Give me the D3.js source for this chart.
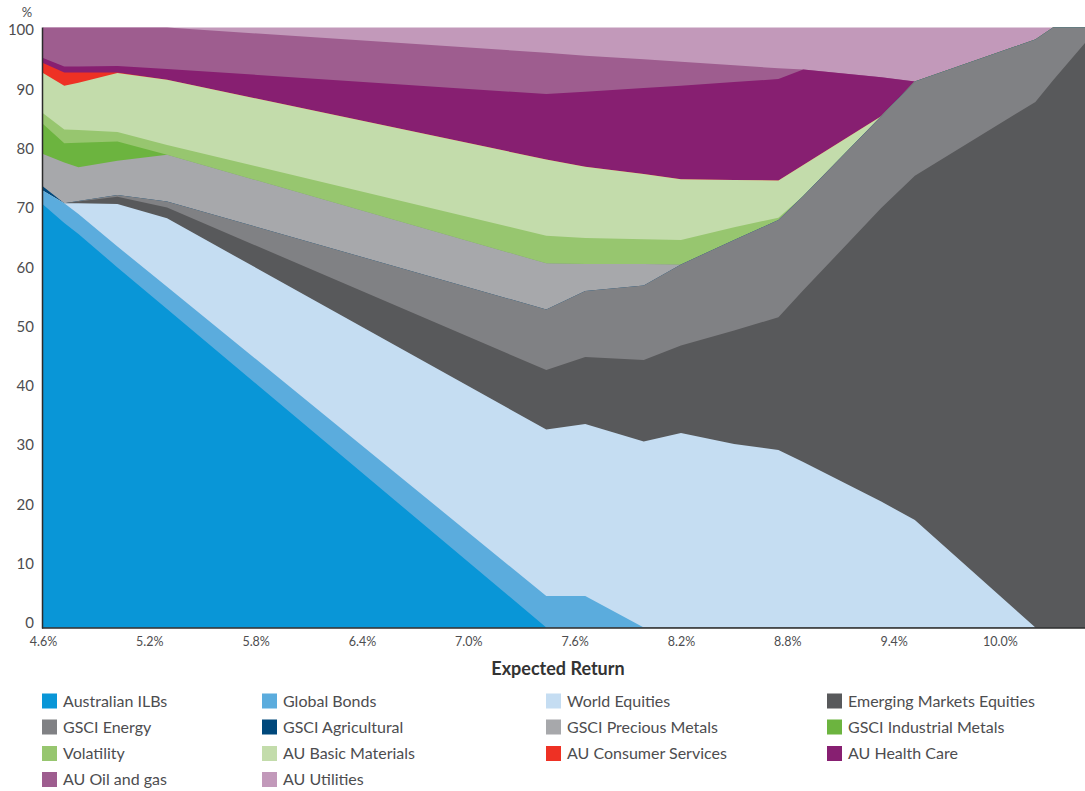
<!DOCTYPE html>
<html>
<head>
<meta charset="utf-8">
<script src="https://cdn.jsdelivr.net/npm/d3@7"></script>
<style>
  body { margin: 0; background: #fff; }
  text { font-family: Lato, "Open Sans", sans-serif; }
</style>
</head>
<body>
<script>
var w = 1085;
var h = 791;

// expected return of each frontier portfolio (%)
var returns = [4.60, 4.72, 4.80, 5.02, 5.30, 7.44, 7.66, 7.99, 8.20, 8.50, 8.75, 8.89, 9.33, 9.52, 10.20, 10.30, 10.48];

// weights (%) of each asset, one value per portfolio
var australianILBs     = [70.5, 67.4, 65.6, 60.0, 53.1, 0, 0, 0, 0, 0, 0, 0, 0, 0, 0, 0, 0];
var globalBonds        = [2.3, 3.3, 3.3, 3.5, 3.7, 5.25, 5.25, 0, 0, 0, 0, 0, 0, 0, 0, 0, 0];
var worldEquities      = [0, 0, 1.8, 7.1, 11.4, 27.75, 28.65, 31.0, 32.4, 30.6, 29.6, 27.6, 21.0, 17.9, 0, 0, 0];
var emergingEquities   = [0, 0, 0.3, 1.2, 1.8, 9.9, 11.2, 13.6, 14.6, 18.9, 22.1, 28.6, 48.9, 57.4, 87.6, 91.2, 97.4];
var gsciEnergy         = [0, 0, 0.1, 0.3, 1.0, 10.1, 11.0, 12.4, 13.5, 15.1, 16.2, 15.7, 15.3, 15.7, 10.4, 8.8, 2.6];
var gsciAgricultural   = [0.7, 0, 0, 0, 0, 0, 0, 0, 0, 0, 0, 0, 0, 0, 0, 0, 0];
var gsciPrecious       = [5.4, 6.8, 5.6, 5.7, 7.8, 7.7, 4.5, 3.6, 0, 0, 0, 0, 0, 0, 0, 0, 0];
var gsciIndustrial     = [5.0, 3.2, 4.1, 3.2, 0, 0, 0, 0, 0, 0, 0, 0, 0, 0, 0, 0, 0];
var volatility         = [1.8, 2.3, 2.1, 1.6, 1.6, 4.6, 4.3, 4.1, 4.1, 2.1, 0.4, 0, 0, 0, 0, 0, 0];
var auBasicMaterials   = [6.7, 7.3, 7.9, 9.8, 10.9, 12.7, 11.9, 10.9, 10.1, 7.9, 6.2, 5.2, 0, 0, 0, 0, 0];
var auConsumerServices = [1.7, 2.2, 1.7, 0.1, 0, 0, 0, 0, 0, 0, 0, 0, 0, 0, 0, 0, 0];
var auHealthCare       = [0.8, 1.0, 1.0, 1.1, 1.8, 10.9, 12.5, 14.3, 15.6, 16.3, 16.9, 15.9, 6.5, 0, 0, 0, 0];
var auOilGas           = [5.1, 6.5, 6.5, 6.4, 6.9, 6.9, 6.0, 4.8, 4.0, 2.8, 1.8, 0, 0, 0, 0, 0, 0];
var auUtilities        = [0, 0, 0, 0, 0, 4.2, 4.7, 5.3, 5.7, 6.3, 6.8, 7.0, 8.3, 9.0, 2.0, 0, 0];

var seriesNames = ["Australian ILBs", "Global Bonds", "World Equities", "Emerging Markets Equities",
                   "GSCI Energy", "GSCI Agricultural", "GSCI Precious Metals", "GSCI Industrial Metals",
                   "Volatility", "AU Basic Materials", "AU Consumer Services", "AU Health Care",
                   "AU Oil and gas", "AU Utilities"];
var seriesValues = [australianILBs, globalBonds, worldEquities, emergingEquities, gsciEnergy,
                    gsciAgricultural, gsciPrecious, gsciIndustrial, volatility, auBasicMaterials,
                    auConsumerServices, auHealthCare, auOilGas, auUtilities];
var colors = ["#0996d7", "#5bacdd", "#c5ddf2", "#58595b", "#808184", "#00487b", "#a7a8ab",
              "#6cb43f", "#97c66f", "#c3dcab", "#ee3124", "#871f71", "#9e5d8f", "#c299ba"];

var xTicks = [4.6, 5.2, 5.8, 6.4, 7.0, 7.6, 8.2, 8.8, 9.4, 10.0];
var yTicks = [0, 10, 20, 30, 40, 50, 60, 70, 80, 90, 100];

// table for d3.stack
var table = returns.map(function(r, i) {
  var row = { ret: r };
  seriesNames.forEach(function(name, j) { row[name] = seriesValues[j][i]; });
  return row;
});

var stacked = d3.stack().keys(seriesNames)(table);

var plotL = 43, plotR = 1085, plotT = 27.5, plotB = 627.5;

var x = d3.scaleLinear().domain([4.6, 10.48]).range([plotL, plotR]);
var y = d3.scaleLinear().domain([0, 100]).range([plotB, plotT]);
// tick labels sit slightly inside the plot frame
var yLab = d3.scaleLinear().domain([0, 100]).range([623, 30]);

var svg = d3.select("body")
  .append("svg")
  .attr("width", w)
  .attr("height", h);

// each layer is filled from the baseline to its top, top layer first,
// so neighbouring layers overlap and leave no seams
var area = d3.area()
  .x(function(d) { return x(d.data.ret); })
  .y0(y(0))
  .y1(function(d) { return y(d[1]); });

svg.append("g")
  .selectAll("path")
  .data(stacked.slice().reverse())
  .enter()
  .append("path")
  .attr("d", area)
  .attr("fill", function(d) { return colors[d.index]; });

// axis lines
svg.append("line")
  .attr("x1", plotL - 0.5).attr("x2", plotL - 0.5)
  .attr("y1", plotT).attr("y2", plotB + 1)
  .attr("stroke", "#2b2b2b").attr("stroke-width", 1.5);
svg.append("line")
  .attr("x1", plotL - 1).attr("x2", plotR)
  .attr("y1", plotB + 0.5).attr("y2", plotB + 0.5)
  .attr("stroke", "#2b2b2b").attr("stroke-width", 1.5);

// y axis labels
var yAxis = svg.append("g")
  .attr("transform", "translate(" + (plotL - 9) + ",0)")
  .call(d3.axisLeft(yLab).tickValues(yTicks).tickSize(0).tickPadding(0));
yAxis.select(".domain").remove();
yAxis.selectAll("text")
  .attr("font-size", "15px")
  .attr("fill", "#4d4d4f")
  .style("font-family", "Lato, 'Open Sans', sans-serif");

svg.append("text")
  .text("%")
  .attr("x", 27)
  .attr("y", 17)
  .attr("text-anchor", "middle")
  .attr("font-size", "13px")
  .attr("fill", "#4d4d4f");

// x axis labels
var xAxis = svg.append("g")
  .attr("transform", "translate(0," + (plotB + 10) + ")")
  .call(d3.axisBottom(x).tickValues(xTicks).tickSize(0).tickPadding(0)
    .tickFormat(function(d) { return d3.format(".1f")(d) + "%"; }));
xAxis.select(".domain").remove();
xAxis.selectAll("text")
  .attr("font-size", "12.5px")
  .attr("fill", "#4d4d4f")
  .style("font-family", "Lato, 'Open Sans', sans-serif");

svg.append("text")
  .text("Expected Return")
  .attr("x", 558)
  .attr("y", 675)
  .attr("text-anchor", "middle")
  .attr("font-size", "18px")
  .attr("font-weight", "bold")
  .attr("fill", "#333");

// legend: 4 columns
var legCols = [42, 262, 546, 827];
var legRows = [701, 727, 753.5, 779.5];

var legend = svg.append("g")
  .selectAll("g")
  .data(seriesNames)
  .enter()
  .append("g")
  .attr("transform", function(d, i) {
    return "translate(" + legCols[i % 4] + "," + legRows[Math.floor(i / 4)] + ")";
  });

legend.append("rect")
  .attr("x", 0)
  .attr("y", -7.5)
  .attr("width", 15)
  .attr("height", 15)
  .attr("fill", function(d, i) { return colors[i]; });

legend.append("text")
  .text(function(d) { return d; })
  .attr("x", 21)
  .attr("y", 0)
  .attr("dy", "0.35em")
  .attr("font-size", "16px")
  .attr("fill", "#4d4d4f");
</script>
</body>
</html>
